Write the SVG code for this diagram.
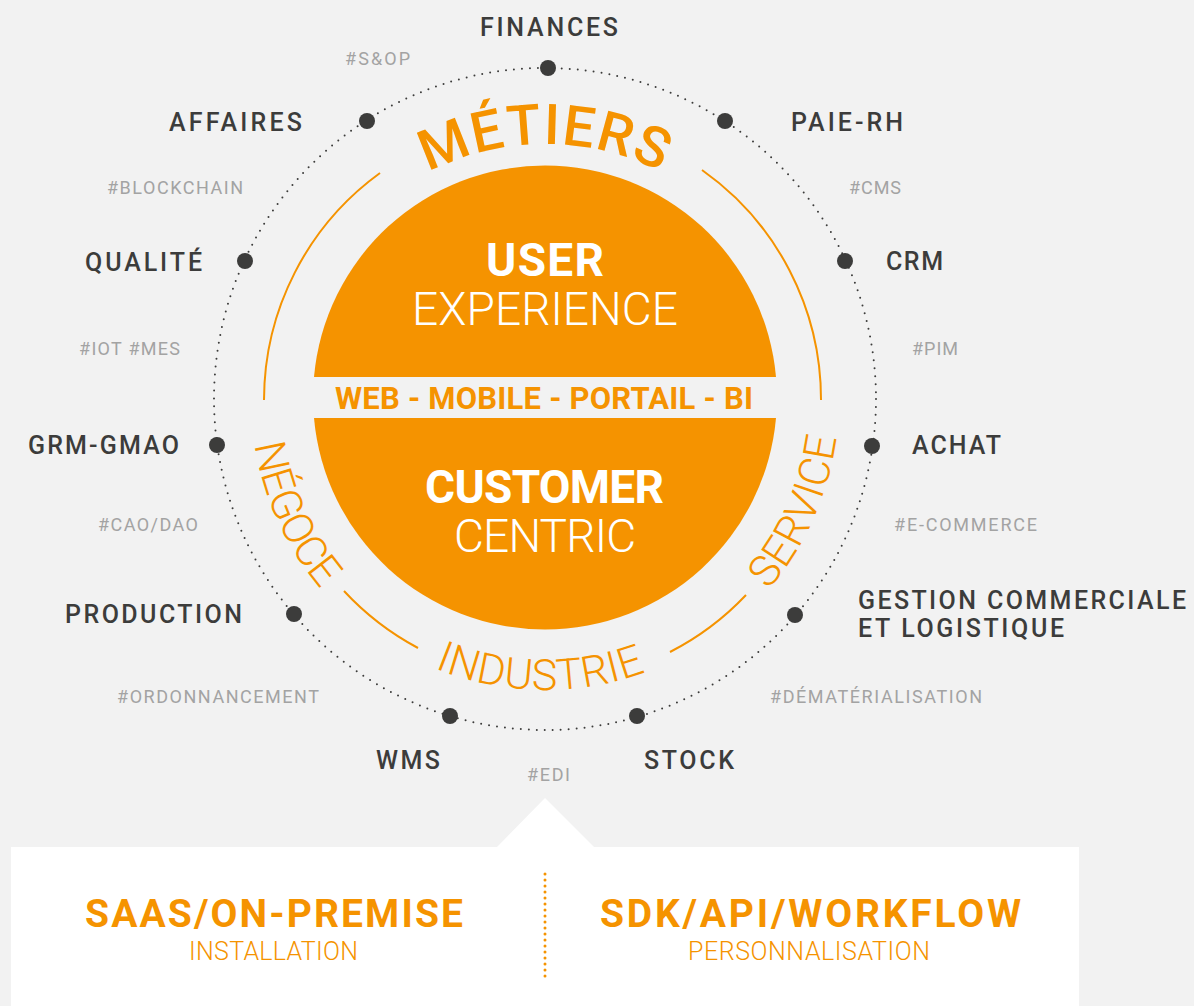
<svg xmlns="http://www.w3.org/2000/svg" width="1194" height="1006" viewBox="0 0 1194 1006">
<style>
text{font-family:"Roboto","Liberation Sans",sans-serif}
.n{font-size:25px;font-weight:500;fill:#3c3c3b}
.t{font-size:18px;fill:#a3a3a3}
.o{fill:#f59300}
.a{fill:none;stroke:#f59300;stroke-width:2}
.d{fill:#3c3c3b}
.w{fill:#fff;font-size:46px}
.b{font-weight:700}
.l{font-weight:300}
.c{font-size:43px;text-anchor:middle;fill:#f59300;font-weight:300}
.m{font-size:56px;text-anchor:middle;fill:#f59300;font-weight:500;letter-spacing:1.5px}
</style>
<defs>
<path id="top" d="M290 399A255 255 0 0 1 800 399"/>
<path id="low" d="M251 399A294 294 0 0 0 839 399"/>
<path id="ind" d="M254 399A291 291 0 0 0 836 399"/>
</defs>
<rect width="1194" height="1006" fill="#f2f2f2"/>
<g id="connectors">
<circle cx="545" cy="399" r="331" fill="none" stroke="#3c3c3b" stroke-width="2" stroke-dasharray="0 8" stroke-linecap="round"/>
<path class="a" d="M264 400A281 281 0 0 1 380 173"/>
<path class="a" d="M702 170A281 281 0 0 1 821 400"/>
<path class="a" d="M344 591A281 281 0 0 0 418 648"/>
<path class="a" d="M670 652A281 281 0 0 0 746 595"/>
</g>
<g id="hub">
<path class="o" d="M314 377A231.9 231.9 0 0 1 776 377Z"/>
<path class="o" d="M314 418H776A231.9 231.9 0 0 1 314 418Z"/>
<text class="w b" x="486" y="276" textLength="118">USER</text>
<text class="w l" x="412" y="325" textLength="266">EXPERIENCE</text>
<text class="o b" x="335" y="409" font-size="31" textLength="418">WEB - MOBILE - PORTAIL - BI</text>
<text class="w b" x="425" y="503" textLength="239">CUSTOMER</text>
<text class="w l" x="454" y="552" textLength="182">CENTRIC</text>
</g>
<g id="metiers"><text class="m"><textPath href="#top" startOffset="50%">MÉTIERS</textPath></text></g>
<g id="negoce"><text class="c" letter-spacing="-1" transform="rotate(65.5 545 399)"><textPath href="#low" startOffset="50%">NÉGOCE</textPath></text></g>
<g id="service"><text class="c" letter-spacing="0.3" transform="rotate(-66 545 399)"><textPath href="#low" startOffset="50%">SERVICE</textPath></text></g>
<g id="industrie"><text class="c" letter-spacing="0.4" transform="rotate(1 545 399)"><textPath href="#ind" startOffset="50%">INDUSTRIE</textPath></text></g>
<g id="finances"><circle class="d" cx="548" cy="68" r="8"/><text class="n" x="480" y="36" textLength="138">FINANCES</text></g>
<g id="paie"><circle class="d" cx="725" cy="121" r="8"/><text class="n" x="791" y="131" textLength="112">PAIE-RH</text></g>
<g id="crm"><circle class="d" cx="845" cy="261" r="8"/><text class="n" x="886" y="270" textLength="57">CRM</text></g>
<g id="achat"><circle class="d" cx="872" cy="446" r="8"/><text class="n" x="912" y="454" textLength="89">ACHAT</text></g>
<g id="gestion"><circle class="d" cx="795" cy="615" r="8"/><text class="n" x="858" y="609" textLength="328">GESTION COMMERCIALE</text><text class="n" x="858" y="637" textLength="206">ET LOGISTIQUE</text></g>
<g id="stock"><circle class="d" cx="637" cy="716" r="8"/><text class="n" x="644" y="769" textLength="90">STOCK</text></g>
<g id="wms"><circle class="d" cx="450" cy="716" r="8"/><text class="n" x="376" y="769" textLength="64">WMS</text></g>
<g id="production"><circle class="d" cx="294" cy="614" r="8"/><text class="n" x="65" y="623" textLength="177">PRODUCTION</text></g>
<g id="grm"><circle class="d" cx="217" cy="445" r="8"/><text class="n" x="28" y="454" textLength="151">GRM-GMAO</text></g>
<g id="qualite"><circle class="d" cx="245" cy="261" r="8"/><text class="n" x="85" y="271" textLength="117">QUALITÉ</text></g>
<g id="affaires"><circle class="d" cx="367" cy="121" r="8"/><text class="n" x="169" y="131" textLength="133">AFFAIRES</text></g>
<g id="tags">
<text class="t" x="345" y="65" textLength="65">#S&amp;OP</text>
<text class="t" x="107" y="194" textLength="136">#BLOCKCHAIN</text>
<text class="t" x="849" y="194" textLength="52">#CMS</text>
<text class="t" x="912" y="355" textLength="46">#PIM</text>
<text class="t" x="79" y="355" textLength="101">#IOT #MES</text>
<text class="t" x="98" y="531" textLength="100">#CAO/DAO</text>
<text class="t" x="894" y="531" textLength="143">#E-COMMERCE</text>
<text class="t" x="117" y="703" textLength="202">#ORDONNANCEMENT</text>
<text class="t" x="770" y="703" textLength="212">#DÉMATÉRIALISATION</text>
<text class="t" x="527" y="781" textLength="43">#EDI</text>
</g>
<g id="panel">
<path fill="#fff" d="M11 847H497L545 798L594 847H1079V1006H11Z"/>
<path d="M545 874V978" stroke="#f59300" stroke-width="3" stroke-dasharray="0 6" stroke-linecap="round" fill="none"/>
<text x="85" y="927" font-size="39" class="o b" textLength="378">SAAS/ON-PREMISE</text>
<text x="189" y="960" font-size="25" class="o l" textLength="169">INSTALLATION</text>
<text x="600" y="927" font-size="39" class="o b" textLength="421">SDK/API/WORKFLOW</text>
<text x="688" y="960" font-size="25" class="o l" textLength="242">PERSONNALISATION</text>
</g>
</svg>
